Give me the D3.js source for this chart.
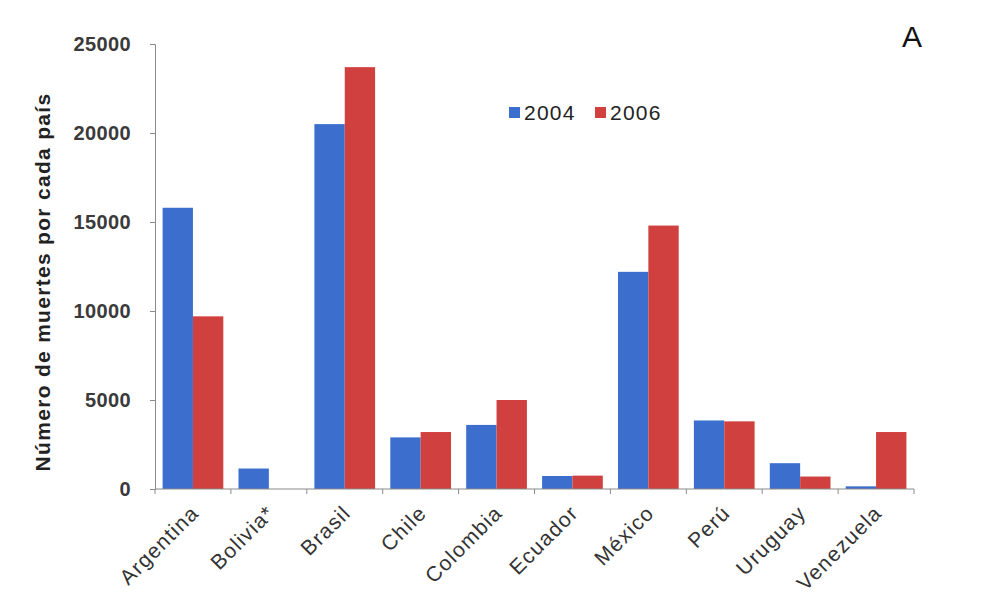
<!DOCTYPE html>
<html>
<head>
<meta charset="utf-8">
<script src="https://cdn.jsdelivr.net/npm/d3@7"></script>
<style>
  body { margin: 0; background: #fff; }
  svg { display: block; }
</style>
</head>
<body>
<svg id="chart" width="988" height="597"></svg>
<script>
// Deaths per country, 2004 vs 2006
const countries = ["Argentina", "Bolivia*", "Brasil", "Chile", "Colombia", "Ecuador", "México", "Perú", "Uruguay", "Venezuela"];
const series = ["2004", "2006"];
const values2004 = [15800, 1150, 20500, 2900, 3600, 730, 12200, 3850, 1450, 150];
const values2006 = [9700, 0, 23700, 3200, 5000, 750, 14800, 3800, 700, 3200];
const yTicks = [0, 5000, 10000, 15000, 20000, 25000];
const colors = ["#3c6fcd", "#d0403f"];

const FONT = "Liberation Sans, Arial, sans-serif";
const svg = d3.select("#chart");
const margin = { left: 155, right: 74, top: 44, bottom: 108 };
const W = 988, H = 597;

const x = d3.scaleBand().domain(countries).range([margin.left, W - margin.right]).paddingInner(0.2).paddingOuter(0.1);
const xFull = d3.scaleBand().domain(countries).range([margin.left, W - margin.right]);
const xs = d3.scaleBand().domain(series).range([0, x.bandwidth()]);
const y = d3.scaleLinear().domain([0, 25000]).range([H - margin.bottom, margin.top]);

const data = countries.map((c, i) => ({ country: c, vals: [values2004[i], values2006[i]] }));

// bars
const groups = svg.append("g").selectAll("g").data(data).join("g")
  .attr("transform", d => `translate(${x(d.country)},0)`);
groups.selectAll("rect").data(d => d.vals.map((v, k) => ({ k, v }))).join("rect")
  .attr("x", d => xs(series[d.k]))
  .attr("width", xs.bandwidth())
  .attr("y", d => y(d.v))
  .attr("height", d => y(0) - y(d.v))
  .attr("fill", d => colors[d.k]);

// y axis
const yAxis = svg.append("g").attr("transform", `translate(${margin.left},0)`)
  .call(d3.axisLeft(y).tickValues(yTicks).tickSize(5).tickPadding(19).tickFormat(d3.format("d")));
yAxis.select(".domain").attr("stroke", "#8a8a8a");
yAxis.selectAll(".tick line").attr("stroke", "#8a8a8a");
yAxis.selectAll("text").attr("font-family", FONT)
  .attr("font-size", 20).attr("font-weight", "bold").attr("letter-spacing", 0.4).attr("fill", "#3a3a3a");

// x axis with ticks at category boundaries
const xAxisG = svg.append("g").attr("transform", `translate(0,${y(0)})`);
xAxisG.append("line").attr("x1", margin.left).attr("x2", W - margin.right)
  .attr("stroke", "#8a8a8a");
const boundaries = countries.map(c => xFull(c)).concat([xFull(countries[countries.length - 1]) + xFull.bandwidth()]);
xAxisG.selectAll("line.tk").data(boundaries).join("line").attr("class", "tk")
  .attr("x1", d => d).attr("x2", d => d).attr("y1", 0).attr("y2", 5).attr("stroke", "#8a8a8a");
xAxisG.selectAll("text").data(countries).join("text")
  .attr("transform", d => `translate(${xFull(d) + xFull.bandwidth() / 2 + 2},${20}) rotate(-45)`)
  .attr("text-anchor", "end")
  .attr("dy", "0.35em")
  .attr("font-family", FONT)
  .attr("font-size", 21)
  .attr("letter-spacing", 1.3)
  .attr("fill", "#333")
  .text(d => d);

// y axis title
svg.append("text")
  .attr("transform", `translate(50,282) rotate(-90)`)
  .attr("text-anchor", "middle")
  .attr("font-family", FONT)
  .attr("font-size", 21).attr("font-weight", "bold").attr("letter-spacing", 1.3).attr("fill", "#222")
  .text("Número de muertes por cada país");

// legend
const legend = svg.append("g").attr("transform", "translate(509,113)");
series.forEach((s, k) => {
  const g = legend.append("g").attr("transform", `translate(${k * 86},0)`);
  g.append("rect").attr("x", 0).attr("y", -6).attr("width", 11).attr("height", 11).attr("fill", colors[k]);
  g.append("text").attr("x", 15).attr("y", 0).attr("dy", "0.35em")
    .attr("font-family", FONT).attr("font-size", 21).attr("letter-spacing", 1.2).attr("fill", "#222")
    .text(s);
});

// panel letter
svg.append("text").attr("x", 912).attr("y", 47).attr("text-anchor", "middle")
  .attr("font-family", FONT).attr("font-size", 30).attr("fill", "#111")
  .text("A");
</script>
</body>
</html>
